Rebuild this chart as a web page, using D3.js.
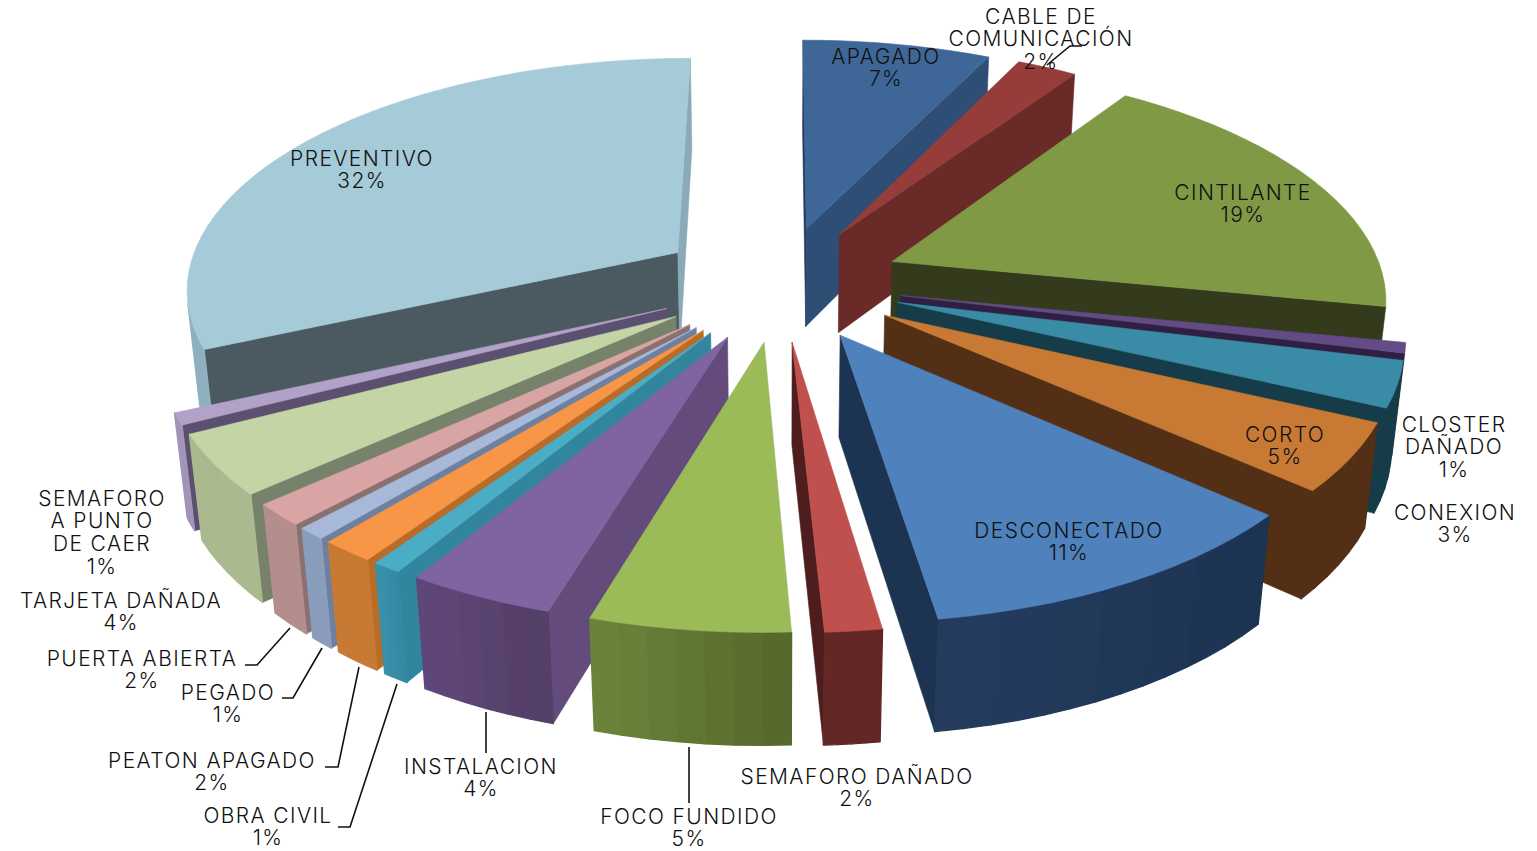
<!DOCTYPE html>
<html><head><meta charset="utf-8">
<style>html,body{margin:0;background:#fff}svg{display:block}text{font-family:Inter,Lato,sans-serif;font-weight:300;font-size:21px;fill:#111;letter-spacing:1.4px}</style>
<script src="https://cdn.jsdelivr.net/npm/d3@7/dist/d3.min.js"></script>
</head><body><svg id="c" width="1537" height="851"></svg>
<script>
// Data
const categories=[["APAGADO"],["CABLE DE","COMUNICACIÓN"],["CINTILANTE"],["CLOSTER","DAÑADO"],["CONEXION"],["CORTO"],["DESCONECTADO"],["SEMAFORO DAÑADO"],["FOCO FUNDIDO"],["INSTALACION"],["OBRA CIVIL"],["PEATON APAGADO"],["PEGADO"],["PUERTA ABIERTA"],["TARJETA DAÑADA"],["SEMAFORO","A PUNTO","DE CAER"],["PREVENTIVO"]];
const shares=[7.2,2.3,18.6,0.7,3.1,4.6,11.1,1.55,5.45,4.05,0.8,1.5,0.8,1.5,4.1,0.8,31.75];

// Styles
const topColors=["#3e6797","#963c3a","#7f9945","#634b85","#3a8ba5","#c87a34","#4f81bd","#c0504d","#9bbb59","#8064a2","#4bacc6","#f79646","#a7b9d9","#d9a5a4","#c3d5a5","#b3a2c7","#a5cad8"];
const startWall=["#1f3a5c","#4a1e1d","#333a1b","#2f1f42","#163c4a","#522f15","#1c3352","#632725","#566a2d","#634c7c","#31859c","#b96b28","#6d809f","#8a7070","#76826a","#5c5070","#4b5a60"];
const endWall=["#2e4e75","#6a2a28","#343b1c","#2f1f42","#163c4a","#522f15","#1c3352","#4d1e1d","#4f6128","#5a4570","#31859c","#b96b28","#6d809f","#8a7070","#76826a","#5c5070","#8aaab8"];
const arcFrom=["#2e4e75","#6a2a28","#4f5f2a","#2f1f42","#163c4a","#522f15","#1c3352","#632725","#566a2d","#543f68","#338aa2","#c77a33","#8a9dbc","#b48e8d","#abb98f","#a294b8","#8fb0bf"];
const arcTo=["#2e4e75","#6a2a28","#4f5f2a","#2f1f42","#163c4a","#522f15","#253c5f","#632725","#6a833a","#5f4678","#3a90a8","#c77a33","#8a9dbc","#b48e8d","#abb98f","#a294b8","#8fb0bf"];

// Label anchors (centre of first line)
const labelAnchor=[[886,56],[1041,16],[1243,192],[1454,424],[1455,512],[1285,434],[1069,530],[857,776],[689,816],[481,766],[268,815],[212,760],[228,692],[142,658],[121,600],[102,498],[362,158]];
const leaders=[[[1082,46],[1070,46],[1047,65]],[[245,665],[257,665],[290,628]],[[282,698],[293,698],[322,648]],[[325,767],[338,767],[359,667]],[[338,827],[350,827],[397,684]],[[486,712],[486,753]],[[689,747],[689,803]]];

// 3D projection of the exploded pie
const cx=779.5,cy=283,Fx=493,A=230,B=.143,C=.02,H=102,explode=.25;
const proj=(X,Y,z)=>{const w=1+B*Y+C*z;return [cx+Fx*X/w,cy-(A*Y-H*z)/w];};
const svg=d3.select("#c");
const line=d3.line();
const pie=d3.pie().sort(null).value(d=>d)(shares);

const area=p=>d3.polygonArea(p);
const slices=pie.map((d,i)=>({i,a0:d.startAngle,a1:d.endAngle,m:(d.startAngle+d.endAngle)/2}));
slices.sort((a,b)=>Math.cos(b.m)-Math.cos(a.m));

const draw=(g,pts,col,sw=.6)=>g.append("path").attr("d",line(pts)+"Z").attr("fill",col).attr("stroke",col).attr("stroke-width",sw).attr("stroke-linejoin","round");

slices.forEach(s=>{
  const g=svg.append("g");
  const ox=explode*Math.sin(s.m),oy=explode*Math.cos(s.m);
  const pt=(a,z)=>proj(ox+Math.sin(a),oy+Math.cos(a),z);
  const ap=z=>proj(ox,oy,z);
  const n=Math.max(4,Math.ceil((s.a1-s.a0)/.05));
  const angs=d3.range(n+1).map(k=>s.a0+(s.a1-s.a0)*k/n);
  const shade=d3.interpolateRgb(arcFrom[s.i],arcTo[s.i]);
  // a face is drawn only when it faces the viewer (screen winding)
  const face=(q,col,sw)=>{if(area(q)<0)draw(g,q,col,sw);};
  face([ap(0),ap(1),pt(s.a0,1),pt(s.a0,0)],startWall[s.i]);
  face([pt(s.a1,0),pt(s.a1,1),ap(1),ap(0)],endWall[s.i]);
  const band=Math.max(1,Math.round(n/8));
  for(let k=0;k<n;k++){
    const q=[pt(angs[k],0),pt(angs[k],1),pt(angs[k+1],1),pt(angs[k+1],0)];
    const t=Math.floor(k/band)*band/Math.max(1,n-1);
    face(q,shade(t),1.4);
  }
  draw(g,[ap(0),...angs.map(a=>pt(a,0))],topColors[s.i]);
});

svg.append("g").selectAll("path").data(leaders).join("path")
  .attr("d",d=>line(d)).attr("fill","none").attr("stroke","#111").attr("stroke-width",1.6);

const lh=22.8;
categories.forEach((c,i)=>{
  const t=svg.append("text").attr("text-anchor","middle");
  const lines=[...c,Math.round(shares[i])+"%"];
  lines.forEach((l,k)=>t.append("tspan").attr("x",labelAnchor[i][0]).attr("y",labelAnchor[i][1]+k*lh).attr("dy","0.36em").text(l));
});
</script></body></html>
